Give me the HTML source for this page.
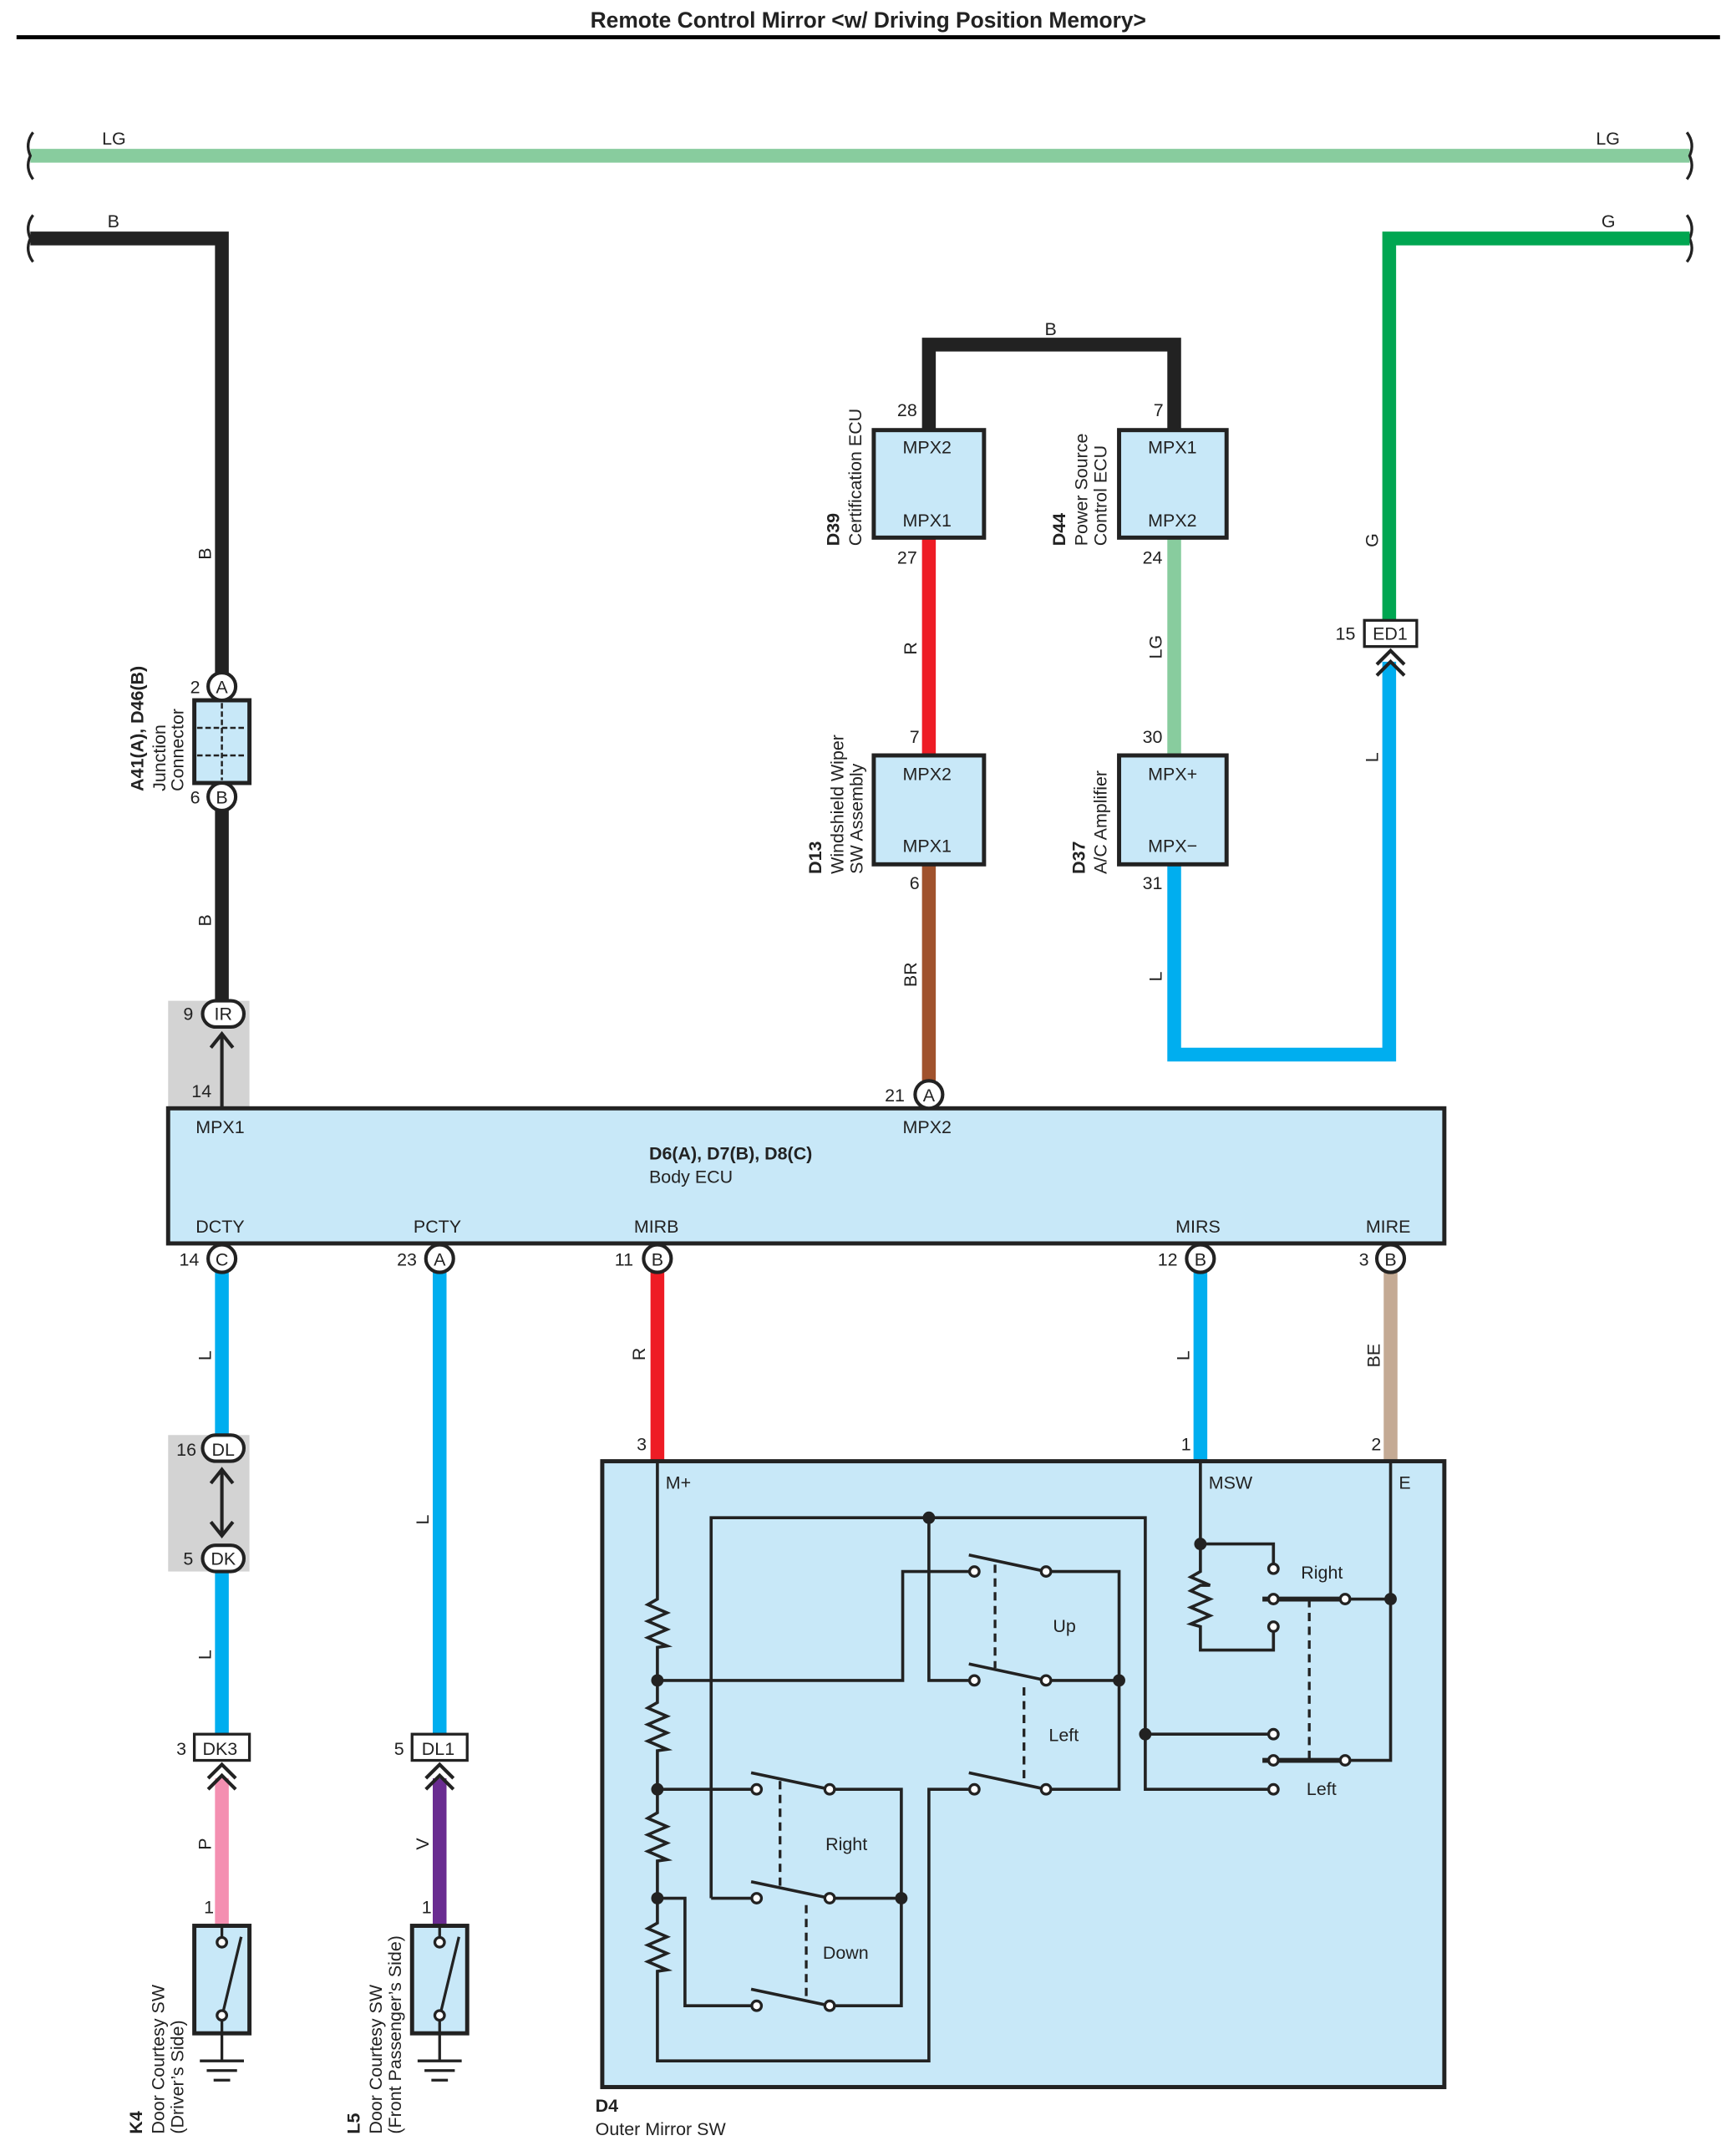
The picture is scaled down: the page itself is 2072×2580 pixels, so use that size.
<!DOCTYPE html>
<html><head><meta charset="utf-8"><style>
html,body{margin:0;padding:0;background:#fff;}
svg{display:block;}
text{font-family:"Liberation Sans",Arial,sans-serif;font-size:13px;fill:#222;}
.b{font-weight:bold;}
</style></head><body>
<svg width="2072" height="2580" viewBox="0 0 1256 1564" preserveAspectRatio="none" xmlns="http://www.w3.org/2000/svg">
<text x="630" y="20" text-anchor="middle" class="b" style="font-size:16px">Remote Control Mirror &lt;w/ Driving Position Memory&gt;</text>
<line x1="12" y1="27" x2="1248" y2="27" stroke="#000" stroke-width="3"/>

<!-- top wires -->
<line x1="22" y1="113" x2="1226" y2="113" stroke="#88cc9e" stroke-width="10"/>
<g fill="none" stroke="#222" stroke-width="2">
<path d="M24 96 Q18 104 22 113 Q18 122 24 130"/><path d="M1224 96 Q1230 104 1226 113 Q1230 122 1224 130"/>
<path d="M24 156 Q18 164 22 173 Q18 182 24 190"/><path d="M1224 156 Q1230 164 1226 173 Q1230 182 1224 190"/>
</g>
<text x="74" y="105">LG</text><text x="1158" y="105">LG</text>
<text x="78" y="165">B</text><text x="1162" y="165">G</text>
<path d="M22 173 H161 V735" fill="none" stroke="#222" stroke-width="10"/>
<path d="M1226 173 H1008 V452" fill="none" stroke="#00a651" stroke-width="10"/>

<!-- gray regions -->
<rect x="122" y="726" width="59" height="78" fill="#d3d3d3"/>
<rect x="122" y="1041" width="59" height="99" fill="#d3d3d3"/>

<!-- center wires -->
<path d="M674 312 V250 H852 V312" fill="none" stroke="#222" stroke-width="10"/>
<text x="758" y="243">B</text>
<line x1="674" y1="390" x2="674" y2="548" stroke="#ee1c25" stroke-width="10"/>
<line x1="674" y1="627" x2="674" y2="785" stroke="#a0522d" stroke-width="10"/>
<line x1="852" y1="390" x2="852" y2="548" stroke="#88cc9e" stroke-width="10"/>
<path d="M852 627 V765 H1008 V480" fill="none" stroke="#00aeef" stroke-width="10"/>

<!-- bottom wires -->
<line x1="161" y1="922" x2="161" y2="1041" stroke="#00aeef" stroke-width="10"/>
<line x1="161" y1="1140" x2="161" y2="1258" stroke="#00aeef" stroke-width="10"/>
<line x1="161" y1="1290" x2="161" y2="1397" stroke="#f48fb1" stroke-width="10"/>
<line x1="319" y1="922" x2="319" y2="1258" stroke="#00aeef" stroke-width="10"/>
<line x1="319" y1="1290" x2="319" y2="1397" stroke="#6a2c91" stroke-width="10"/>
<line x1="477" y1="922" x2="477" y2="1060" stroke="#ee1c25" stroke-width="10"/>
<line x1="871" y1="922" x2="871" y2="1060" stroke="#00aeef" stroke-width="10"/>
<line x1="1009" y1="922" x2="1009" y2="1060" stroke="#c4aa94" stroke-width="10"/>

<!-- boxes -->
<g fill="#c8e8f8" stroke="#222" stroke-width="3">
<rect x="634" y="312" width="80" height="78"/><rect x="812" y="312" width="78" height="78"/>
<rect x="634" y="548" width="80" height="79"/><rect x="812" y="548" width="78" height="79"/>
<rect x="122" y="804" width="926" height="98"/>
<rect x="437" y="1060" width="611" height="454"/>
<rect x="141" y="508" width="40" height="60"/>
<rect x="141" y="1397" width="40" height="78"/><rect x="299" y="1397" width="40" height="78"/>
</g>
<g stroke="#222" stroke-width="1.5" stroke-dasharray="4,2"><line x1="161" y1="510" x2="161" y2="566"/><line x1="143" y1="528" x2="179" y2="528"/><line x1="143" y1="548" x2="179" y2="548"/></g>
<g fill="#fff" stroke="#222" stroke-width="2">
<rect x="990" y="450" width="38" height="19"/><rect x="141" y="1258" width="40" height="19"/><rect x="299" y="1258" width="40" height="19"/>
</g>
<text x="996" y="464">ED1</text><text x="147" y="1273">DK3</text><text x="306" y="1273">DL1</text>
<!-- chevrons -->
<g fill="none" stroke="#222" stroke-width="2.5">
<path d="M999 482 L1009 472 L1019 482 M999 490 L1009 480 L1019 490"/>
<path d="M151 1290 L161 1280 L171 1290 M151 1298 L161 1288 L171 1298"/>
<path d="M309 1290 L319 1280 L329 1290 M309 1298 L319 1288 L329 1298"/>
<path d="M153 760 L161 750 L169 760"/><line x1="161" y1="750" x2="161" y2="804"/>
<path d="M153 1076 L161 1066 L169 1076 M153 1104 L161 1114 L169 1104"/><line x1="161" y1="1066" x2="161" y2="1114"/>
</g>
<!-- circles -->
<g fill="#fff" stroke="#222" stroke-width="2.5">
<circle cx="161" cy="498" r="10"/><circle cx="161" cy="578" r="10"/><circle cx="674" cy="794" r="10"/>
<circle cx="161" cy="913" r="10"/><circle cx="319" cy="913" r="10"/><circle cx="477" cy="913" r="10"/><circle cx="871" cy="913" r="10"/><circle cx="1009" cy="913" r="10"/>
<rect x="147" y="726" width="30" height="19" rx="9.5"/><rect x="147" y="1041" width="30" height="19" rx="9.5"/><rect x="147" y="1121" width="30" height="19" rx="9.5"/>
</g>
<g text-anchor="middle">
<text x="161" y="503">A</text><text x="161" y="583">B</text><text x="674" y="799">A</text>
<text x="161" y="918">C</text><text x="319" y="918">A</text><text x="477" y="918">B</text><text x="871" y="918">B</text><text x="1009" y="918">B</text>
<text x="162" y="740">IR</text><text x="162" y="1056">DL</text><text x="162" y="1135">DK</text>
</g>
<!-- pin numbers -->
<text x="138" y="503">2</text><text x="138" y="583">6</text><text x="133" y="740">9</text><text x="139" y="796">14</text>
<text x="651" y="302">28</text><text x="837" y="302">7</text><text x="651" y="409">27</text><text x="829" y="409">24</text>
<text x="660" y="539">7</text><text x="829" y="539">30</text><text x="660" y="645">6</text><text x="829" y="645">31</text>
<text x="642" y="799">21</text><text x="969" y="464">15</text>
<text x="130" y="918">14</text><text x="288" y="918">23</text><text x="446" y="918">11</text><text x="840" y="918">12</text><text x="986" y="918">3</text>
<text x="128" y="1056">16</text><text x="133" y="1135">5</text><text x="128" y="1273">3</text><text x="286" y="1273">5</text>
<text x="148" y="1388">1</text><text x="306" y="1388">1</text>
<text x="462" y="1052">3</text><text x="857" y="1052">1</text><text x="995" y="1052">2</text>
<!-- box labels -->
<text x="655" y="329">MPX2</text><text x="655" y="382">MPX1</text>
<text x="833" y="329">MPX1</text><text x="833" y="382">MPX2</text>
<text x="655" y="566">MPX2</text><text x="655" y="618">MPX1</text>
<text x="833" y="566">MPX+</text><text x="833" y="618">MPX−</text>
<text x="142" y="822">MPX1</text><text x="655" y="822">MPX2</text>
<text x="471" y="841" class="b">D6(A), D7(B), D8(C)</text><text x="471" y="858">Body ECU</text>
<text x="142" y="894">DCTY</text><text x="300" y="894">PCTY</text><text x="460" y="894">MIRB</text><text x="853" y="894">MIRS</text><text x="991" y="894">MIRE</text>
<text x="483" y="1080">M+</text><text x="877" y="1080">MSW</text><text x="1015" y="1080">E</text>
<text x="432" y="1532" class="b">D4</text><text x="432" y="1549">Outer Mirror SW</text>
<!-- rotated labels -->
<g>
<text transform="translate(153,406) rotate(-90)">B</text><text transform="translate(153,672) rotate(-90)">B</text>
<text transform="translate(665,475) rotate(-90)">R</text><text transform="translate(665,716) rotate(-90)">BR</text>
<text transform="translate(843,478) rotate(-90)">LG</text><text transform="translate(843,712) rotate(-90)">L</text>
<text transform="translate(1000,397) rotate(-90)">G</text><text transform="translate(1000,553) rotate(-90)">L</text>
<text transform="translate(153,987) rotate(-90)">L</text><text transform="translate(153,1204) rotate(-90)">L</text><text transform="translate(153,1342) rotate(-90)">P</text>
<text transform="translate(311,1106) rotate(-90)">L</text><text transform="translate(311,1342) rotate(-90)">V</text>
<text transform="translate(468,987) rotate(-90)">R</text><text transform="translate(863,987) rotate(-90)">L</text><text transform="translate(1001,992) rotate(-90)">BE</text>
<text transform="translate(104,574) rotate(-90)" class="b">A41(A), D46(B)</text>
<text transform="translate(120,574) rotate(-90)">Junction</text><text transform="translate(133,574) rotate(-90)">Connector</text>
<text transform="translate(609,396) rotate(-90)" class="b">D39</text><text transform="translate(625,396) rotate(-90)">Certification ECU</text>
<text transform="translate(773,396) rotate(-90)" class="b">D44</text><text transform="translate(789,396) rotate(-90)">Power Source</text><text transform="translate(803,396) rotate(-90)">Control ECU</text>
<text transform="translate(596,634) rotate(-90)" class="b">D13</text><text transform="translate(612,634) rotate(-90)">Windshield Wiper</text><text transform="translate(626,634) rotate(-90)">SW Assembly</text>
<text transform="translate(787,634) rotate(-90)" class="b">D37</text><text transform="translate(803,634) rotate(-90)">A/C Amplifier</text>
<text transform="translate(103,1548) rotate(-90)" class="b">K4</text><text transform="translate(119,1548) rotate(-90)">Door Courtesy SW</text><text transform="translate(133,1548) rotate(-90)">(Driver’s Side)</text>
<text transform="translate(261,1548) rotate(-90)" class="b">L5</text><text transform="translate(277,1548) rotate(-90)">Door Courtesy SW</text><text transform="translate(291,1548) rotate(-90)">(Front Passenger’s Side)</text>
</g>
<!-- door switches + grounds -->
<g stroke="#222" stroke-width="2" fill="none">
<line x1="161" y1="1397" x2="161" y2="1409"/><line x1="161" y1="1462" x2="161" y2="1495"/><line x1="162" y1="1459" x2="175" y2="1405"/>
<line x1="319" y1="1397" x2="319" y2="1409"/><line x1="319" y1="1462" x2="319" y2="1495"/><line x1="320" y1="1459" x2="333" y2="1405"/>
<line x1="145" y1="1495" x2="177" y2="1495"/><line x1="150" y1="1502" x2="172" y2="1502"/><line x1="155" y1="1509" x2="167" y2="1509"/>
<line x1="303" y1="1495" x2="335" y2="1495"/><line x1="308" y1="1502" x2="330" y2="1502"/><line x1="313" y1="1509" x2="325" y2="1509"/>
</g>
<g fill="#fff" stroke="#222" stroke-width="2"><circle cx="161" cy="1409" r="3.5"/><circle cx="161" cy="1462" r="3.5"/><circle cx="319" cy="1409" r="3.5"/><circle cx="319" cy="1462" r="3.5"/></g>

<!-- D4 internal -->
<g stroke="#222" stroke-width="2.2" fill="none">
<path d="M477 1060 V1160 l-7 4 l14 6 l-14 6 l14 6 l-14 6 l14 6 l-7 1 V1235 l-7 4 l14 6 l-14 6 l14 6 l-14 6 l14 6 l-7 1 V1315 l-7 4 l14 6 l-14 6 l14 6 l-14 6 l14 6 l-7 1 V1395 l-7 4 l14 6 l-14 6 l14 6 l-14 6 l14 6 l-7 1 V1495 H674 V1298 H703"/>
<path d="M516 1377 V1101 H831 V1298 H920"/>
<path d="M674 1101 V1219 H703"/>
<path d="M831 1258 H920"/>
<path d="M763 1140 H812 V1298 H763"/><path d="M763 1219 H812"/>
<path d="M477 1219 H655 V1140 H703"/>
<path d="M477 1298 H545"/>
<path d="M606 1298 H654 V1455 H606"/><path d="M606 1377 H654"/>
<path d="M516 1377 H545"/>
<path d="M477 1377 H497 V1455 H545"/>
<!-- switch blades -->
<line x1="703" y1="1128" x2="759" y2="1140"/><line x1="703" y1="1207" x2="759" y2="1219"/><line x1="703" y1="1286" x2="759" y2="1298"/>
<line x1="545" y1="1286" x2="602" y2="1298"/><line x1="545" y1="1365" x2="602" y2="1377"/><line x1="545" y1="1443" x2="602" y2="1455"/>
<!-- MSW -->
<path d="M871 1060 V1140 l-7 4 l14 6 l-7 0 l-7 4 l14 6 l-14 6 l14 6 l-14 6 l7 2 V1197 H924 V1184"/>
<path d="M871 1120 H924 V1134"/>
<line x1="916" y1="1160" x2="976" y2="1160" stroke-width="3.5"/>
<line x1="916" y1="1277" x2="976" y2="1277" stroke-width="3.5"/>
<path d="M980 1160 H1009"/><path d="M1009 1060 V1277 H980"/>
</g>
<g stroke="#222" stroke-width="2" stroke-dasharray="6,4">
<line x1="722" y1="1135" x2="722" y2="1210"/><line x1="743" y1="1224" x2="743" y2="1292"/>
<line x1="566" y1="1292" x2="566" y2="1370"/><line x1="585" y1="1382" x2="585" y2="1450"/>
<line x1="950" y1="1160" x2="950" y2="1277"/>
</g>
<g fill="#fff" stroke="#222" stroke-width="2">
<circle cx="707" cy="1140" r="3.5"/><circle cx="759" cy="1140" r="3.5"/><circle cx="707" cy="1219" r="3.5"/><circle cx="759" cy="1219" r="3.5"/><circle cx="707" cy="1298" r="3.5"/><circle cx="759" cy="1298" r="3.5"/>
<circle cx="549" cy="1298" r="3.5"/><circle cx="602" cy="1298" r="3.5"/><circle cx="549" cy="1377" r="3.5"/><circle cx="602" cy="1377" r="3.5"/><circle cx="549" cy="1455" r="3.5"/><circle cx="602" cy="1455" r="3.5"/>
<circle cx="924" cy="1138" r="3.5"/><circle cx="924" cy="1160" r="3.5"/><circle cx="976" cy="1160" r="3.5"/><circle cx="924" cy="1180" r="3.5"/>
<circle cx="924" cy="1258" r="3.5"/><circle cx="924" cy="1277" r="3.5"/><circle cx="976" cy="1277" r="3.5"/><circle cx="924" cy="1298" r="3.5"/>
</g>
<g fill="#222">
<circle cx="674" cy="1101" r="4.5"/><circle cx="477" cy="1219" r="4.5"/><circle cx="477" cy="1298" r="4.5"/><circle cx="477" cy="1377" r="4.5"/>
<circle cx="812" cy="1219" r="4.5"/><circle cx="654" cy="1377" r="4.5"/><circle cx="831" cy="1258" r="4.5"/>
<circle cx="871" cy="1120" r="4.5"/><circle cx="1009" cy="1160" r="4.5"/>
</g>
<text x="764" y="1184">Up</text><text x="761" y="1263">Left</text><text x="599" y="1342">Right</text><text x="597" y="1421">Down</text>
<text x="944" y="1145">Right</text><text x="948" y="1302">Left</text>
</svg>
</body></html>
